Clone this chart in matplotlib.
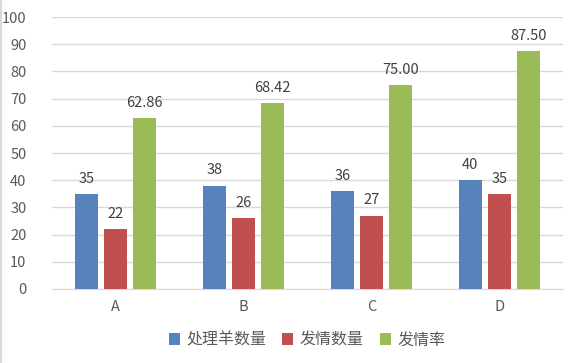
import matplotlib
matplotlib.use("Agg")
import matplotlib.pyplot as plt
import numpy as np

plt.rcParams['font.family'] = ['Noto Sans CJK SC', 'DejaVu Sans']

categories = ['A', 'B', 'C', 'D']
treated = [35, 38, 36, 40]
estrus = [22, 26, 27, 35]
estrus_rate = [62.86, 68.42, 75.00, 87.50]
series_names = ['处理羊数量', '发情数量', '发情率']
colors = ['#5683BC', '#C0504D', '#9BBB59']

fig = plt.figure(figsize=(5.79, 3.63), dpi=100)
ax = fig.add_axes([0.089, 0.204, 0.884, 0.749])

x = np.arange(len(categories))
w = 0.18
offsets = [-0.227, 0, 0.227]
series = [treated, estrus, estrus_rate]
for vals, off, c, name in zip(series, offsets, colors, series_names):
    bars = ax.bar(x + off, vals, w, color=c, label=name, zorder=3)
    for b, v in zip(bars, vals):
        txt = f"{v:.2f}" if name == '发情率' else f"{v:d}"
        ax.text(b.get_x() + b.get_width() / 2, v + 3, txt, ha='center', va='bottom',
                fontsize=10.5, color='#404040')

ax.set_xlim(-0.5, 3.5)
ax.set_ylim(0, 100)
ax.set_yticks(range(0, 101, 10))
ax.set_xticks(x)
ax.set_xticklabels(categories)
ax.yaxis.grid(True, color='#D9D9D9', linewidth=1, zorder=0)
for s in ['top', 'right', 'left']:
    ax.spines[s].set_visible(False)
ax.spines['bottom'].set_color('#D9D9D9')
ax.tick_params(axis='both', length=0, labelsize=10.5, colors='#595959', pad=8)
ax.tick_params(axis='y', pad=18)
for lab in ax.get_yticklabels():
    lab.set_horizontalalignment('right')

fig.legend(loc='lower center', bbox_to_anchor=(0.53, 0.0), ncol=3, frameon=False,
           prop={'size': 11.5}, handlelength=0.7, handleheight=0.7, columnspacing=1.0,
           handletextpad=0.4, labelcolor='#595959')

# faint left edge line like the source chart
fig.add_artist(plt.Line2D([0.001, 0.001], [0, 1], transform=fig.transFigure,
                          color='#D9D9D9', linewidth=1.5))

fig.savefig('out.png', dpi=100)
